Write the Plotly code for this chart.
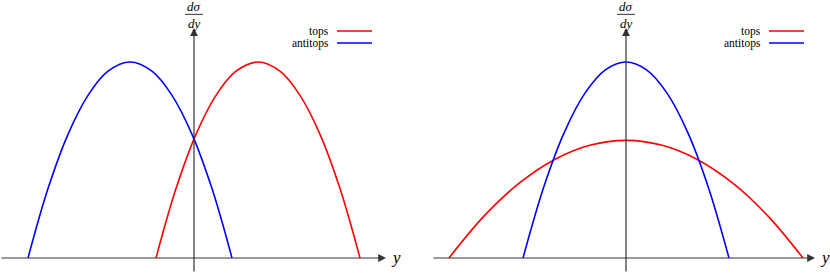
import plotly.graph_objects as go
from plotly.subplots import make_subplots

# Left panel (shifted distributions)
left_tops_x = [-0.38, -0.18, 0.02, 0.22, 0.42, 0.64, 0.86, 1.06, 1.26, 1.46, 1.66]
left_tops_y = [0.0, 0.354, 0.631, 0.830, 0.953, 1.0, 0.953, 0.830, 0.631, 0.354, 0.0]
left_anti_x = [-1.66, -1.46, -1.26, -1.06, -0.86, -0.64, -0.42, -0.22, -0.02, 0.18, 0.38]
left_anti_y = [0.0, 0.354, 0.631, 0.830, 0.953, 1.0, 0.953, 0.830, 0.631, 0.354, 0.0]

# Right panel (centred distributions)
right_tops_x = [-1.77, -1.416, -1.062, -0.708, -0.354, 0.0, 0.354, 0.708, 1.062, 1.416, 1.77]
right_tops_y = [0.0, 0.216, 0.384, 0.504, 0.576, 0.6, 0.576, 0.504, 0.384, 0.216, 0.0]
right_anti_x = [-1.03, -0.824, -0.618, -0.412, -0.206, 0.0, 0.206, 0.412, 0.618, 0.824, 1.03]
right_anti_y = [0.0, 0.36, 0.64, 0.84, 0.96, 1.0, 0.96, 0.84, 0.64, 0.36, 0.0]

series_names = ["tops", "antitops"]
series_colors = ["#ff0000", "#0000ff"]
axis_label_x = "y"

RED, BLUE = series_colors
AX = "#333333"
FONT = "Liberation Serif, DejaVu Serif, serif"

fig = make_subplots(rows=1, cols=2, horizontal_spacing=0)

panels = [
    (1, left_tops_x, left_tops_y, left_anti_x, left_anti_y),
    (2, right_tops_x, right_tops_y, right_anti_x, right_anti_y),
]
for col, tx, ty, ax_, ay_ in panels:
    fig.add_trace(go.Scatter(x=tx, y=ty, mode="lines", line=dict(color=RED, width=1.6, shape="spline"),
                             name=series_names[0], showlegend=False, hoverinfo="skip"), row=1, col=col)
    fig.add_trace(go.Scatter(x=ax_, y=ay_, mode="lines", line=dict(color=BLUE, width=1.6, shape="spline"),
                             name=series_names[1], showlegend=False, hoverinfo="skip"), row=1, col=col)

YR = [-15 / 196, 258 / 196]
fig.update_layout(
    width=830, height=273, margin=dict(l=0, r=0, t=0, b=0),
    paper_bgcolor="white", plot_bgcolor="white",
    xaxis=dict(domain=[0, 0.5], range=[-1.94, 2.21], visible=False),
    xaxis2=dict(domain=[0.5, 1.0], range=[-2.11, 2.04], visible=False),
    yaxis=dict(range=YR, visible=False),
    yaxis2=dict(range=YR, visible=False),
)

annotations = []
shapes = []
axis_specs = [("x", "y", -1.94, 1.92, 1.99), ("x2", "y2", -1.94, 1.89, 1.96)]
for xr, yr, hx0, hx1, lblx in axis_specs:
    # horizontal axis arrow
    annotations.append(dict(x=hx1, y=0, ax=hx0, ay=0, xref=xr, yref=yr, axref=xr, ayref=yr,
                            text="", showarrow=True, arrowhead=2, arrowsize=1.3, arrowwidth=1.2,
                            arrowcolor=AX, standoff=0, startstandoff=0))
    # vertical axis arrow
    annotations.append(dict(x=0, y=1.173, ax=0, ay=YR[0], xref=xr, yref=yr, axref=xr, ayref=yr,
                            text="", showarrow=True, arrowhead=2, arrowsize=1.3, arrowwidth=1.2,
                            arrowcolor=AX, standoff=0, startstandoff=0))
    # x label
    annotations.append(dict(x=lblx, y=0.0, xref=xr, yref=yr, text="<i>" + axis_label_x + "</i>",
                            showarrow=False, font=dict(family=FONT, size=17, color="black"),
                            xanchor="left", yanchor="middle", xshift=-4, yshift=1))
    # dsigma/dy label
    annotations.append(dict(x=0, y=1.284, xref=xr, yref=yr, text="<i>dσ</i>", showarrow=False,
                            font=dict(family=FONT, size=13, color="black"), xanchor="center", yanchor="middle"))
    annotations.append(dict(x=0, y=1.196, xref=xr, yref=yr, text="<i>dy</i>", showarrow=False,
                            font=dict(family=FONT, size=13, color="black"), xanchor="center", yanchor="middle"))
    shapes.append(dict(type="line", xref=xr, yref=yr, x0=-0.09, x1=0.09, y0=1.243, y1=1.243,
                       line=dict(color="black", width=0.8)))
    # legend
    for i, (nm, c) in enumerate(zip(series_names, series_colors)):
        ly = (258 - 31 - 12 * i) / 196
        annotations.append(dict(x=1.36, y=ly, xref=xr, yref=yr, text=nm, showarrow=False, borderpad=0,
                                font=dict(family=FONT, size=11.5, color="black"), xanchor="right", yanchor="middle"))
        shapes.append(dict(type="line", xref=xr, yref=yr, x0=1.43, x1=1.78, y0=ly, y1=ly,
                           line=dict(color=c, width=1.6)))

fig.update_layout(annotations=annotations, shapes=shapes)
fig.write_html("out.html", post_script="document.body.style.margin='0';",
               config={"displayModeBar": False, "staticPlot": True})
